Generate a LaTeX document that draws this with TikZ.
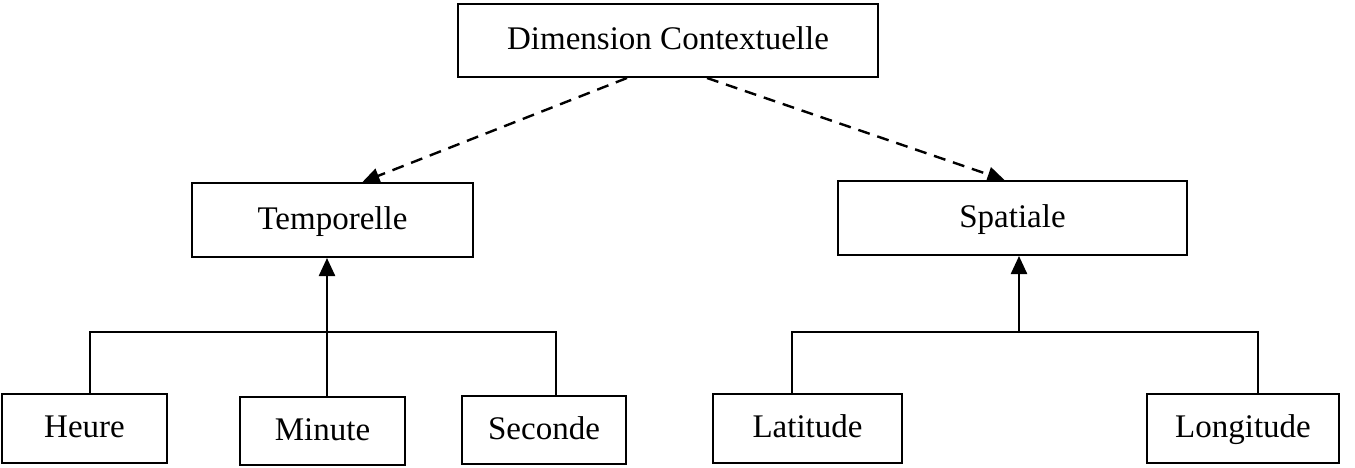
\documentclass[tikz,border=0pt]{standalone}
\usepackage{fontspec}
\setmainfont{Liberation Serif}
\usetikzlibrary{arrows.meta}
\tikzset{
  box/.style={draw=black, line width=2pt, inner sep=0pt, font=\fontsize{33}{38}\selectfont, text height=22pt, text depth=4pt, anchor=center},
  link/.style={draw=black, line width=2pt},
  uparrow/.style={draw=black, line width=2.4pt, -{Triangle[length=18pt,width=16pt]}},
  dasharrow/.style={draw=black, line width=2.4pt, dash pattern=on 12pt off 8pt, -{Triangle[length=17pt,width=15pt]}}
}
\begin{document}
\begin{tikzpicture}[x=1pt,y=-1pt]
\useasboundingbox (0,0) rectangle (1355,468);
\node[box, minimum width=420pt, minimum height=73pt] (dim) at (668,40.5) {Dimension Contextuelle};
\node[box, minimum width=281pt, minimum height=74pt] (temp) at (332.5,220) {Temporelle};
\node[box, minimum width=349pt, minimum height=74pt] (spat) at (1012.5,218) {Spatiale};
\node[box, minimum width=165pt, minimum height=69pt] (heure) at (84.5,428.5) {Heure};
\node[box, minimum width=165pt, minimum height=68pt] (minute) at (322.5,431) {Minute};
\node[box, minimum width=164pt, minimum height=68pt] (seconde) at (544,430) {Seconde};
\node[box, minimum width=189pt, minimum height=69pt] (latitude) at (807.5,428.5) {Latitude};
\node[box, minimum width=192pt, minimum height=69pt] (longitude) at (1243,428.5) {Longitude};
\coordinate (sbar) at (1019,333);
% dashed arrows
\draw[dasharrow] ([xshift=-41pt]dim.south) -- ([xshift=30pt]temp.north);
\draw[dasharrow] ([xshift=39pt]dim.south) -- ([xshift=-8pt]spat.north);
% temporal tree
\draw[link] ([xshift=5.5pt]heure.north) -- ++(0,-61) -| ([xshift=12pt]seconde.north);
\draw[uparrow] ([xshift=4.5pt]minute.north) -- ([xshift=-5.5pt]temp.south);
% spatial tree
\draw[link] ([xshift=-15.5pt]latitude.north) -- ++(0,-61) -| ([xshift=15pt]longitude.north);
\draw[uparrow] (sbar) -- ([xshift=6.5pt]spat.south);
\end{tikzpicture}
\end{document}
